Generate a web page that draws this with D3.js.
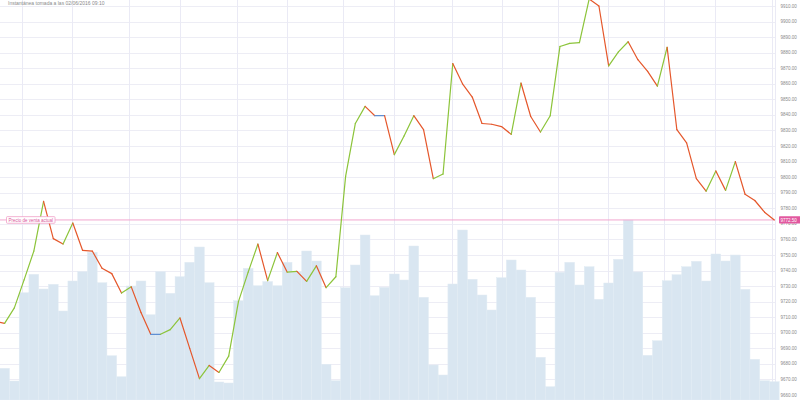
<!DOCTYPE html>
<html>
<head>
<meta charset="utf-8">
<script src="https://cdn.jsdelivr.net/npm/d3@7"></script>
<style>
  html, body { margin: 0; padding: 0; background: #fff; }
  svg { display: block; }
  text { font-family: "Liberation Sans", Arial, sans-serif; }
</style>
</head>
<body>
<svg id="chart" width="800" height="400"></svg>
<script>
// ---- data ----
const title = "Instantánea tomada a las 02/06/2016 09:10";
const priorPrice = 9707.5;
const prices = [
  9706, 9716, 9734, 9752.5, 9784.5, 9760.5, 9757, 9770.5, 9753, 9752.5,
  9741.5, 9738, 9725.5, 9729.5, 9713, 9699, 9699, 9702, 9709.5, 9690,
  9670.5, 9679, 9674.5, 9685, 9720, 9739, 9757, 9733.5, 9751.5, 9739,
  9739.5, 9733, 9743, 9729, 9736, 9800.5, 9834.5, 9845.5, 9839.5, 9839.5,
  9814.5, 9826.5, 9839.5, 9830.5, 9799, 9802, 9873, 9860, 9851.5, 9834.5,
  9834, 9832.5, 9827.5, 9860.5, 9839, 9829, 9839.5, 9884, 9886, 9886.5,
  9914.5, 9910, 9871.5, 9880.5, 9887, 9875.5, 9868, 9858.5, 9883.5, 9830.5,
  9822, 9799, 9791, 9804, 9791.5, 9810, 9789, 9785, 9777.5, 9772.5
];
const volumes = [
  317, 190, 1073, 1257, 1110, 1157, 890, 1190, 1283, 1477,
  1173, 443, 233, 1140, 1190, 853, 1283, 1067, 1233, 1377,
  1530, 1173, 180, 170, 993, 1317, 1143, 1185, 1143, 1377,
  1283, 1490, 1390, 357, 193, 1123, 1350, 1650, 1043, 1127,
  1260, 1200, 1540, 1027, 350, 250, 1160, 1700, 1207, 1050,
  900, 1223, 1400, 1300, 1027, 427, 133, 1277, 1377, 1150,
  1333, 1007, 1170, 1407, 1800, 1280, 447, 593, 1193, 1253,
  1333, 1387, 1190, 1460, 1390, 1450, 1107, 407, 193, 183
];
const currentPrice = 9772.5;
const currentLabel = "Precio de venta actual";
const priceTicks = d3.range(9660, 9911, 10);
const timeGridIdx = [1.75, 6.95, 12.8, 18.0, 23.82, 28.95, 34.76, 39.97, 45.89, 51.02, 56.77, 61.96, 67.7, 72.9, 78.72];

// ---- scales ----
const svg = d3.select("#chart");
const plotRight = 775;
const x = d3.scaleLinear().domain([0, 79]).range([4.6, 774.3]);
const step = x(1) - x(0);
const y = d3.scaleLinear().domain([9660, 9910]).range([395, 6]);
const yv = d3.scaleLinear().domain([0, 2000]).range([400, 200]);

// ---- grid ----
const grid = svg.append("g");
grid.selectAll("line.h").data(priceTicks).join("line")
  .attr("x1", 0).attr("x2", plotRight)
  .attr("y1", d => Math.round(y(d)) + 0.5).attr("y2", d => Math.round(y(d)) + 0.5)
  .attr("stroke", "#ededf5").attr("stroke-width", 1);
grid.selectAll("line.v").data(timeGridIdx).join("line")
  .attr("x1", d => Math.round(x(d)) + 0.5).attr("x2", d => Math.round(x(d)) + 0.5)
  .attr("y1", 0).attr("y2", 400)
  .attr("stroke", "#eaeaf5").attr("stroke-width", 1);
svg.append("line")
  .attr("x1", plotRight + 0.5).attr("x2", plotRight + 0.5)
  .attr("y1", 0).attr("y2", 400)
  .attr("stroke", "#eaeaf5");

// ---- volume bars ----
svg.append("g").selectAll("rect").data(volumes).join("rect")
  .attr("x", (d, i) => x(i) - step / 2)
  .attr("width", step)
  .attr("y", d => yv(d))
  .attr("height", d => yv(0) - yv(d))
  .attr("fill", "#d9e6f1")
  .attr("stroke", "#e1ebf4")
  .attr("stroke-width", 0.5);

// ---- title ----
svg.append("text").attr("x", 8).attr("y", 4.6)
  .attr("font-size", 5).attr("fill", "#8a8a8a").text(title);

// ---- current price line ----
svg.append("line")
  .attr("x1", 0).attr("x2", plotRight)
  .attr("y1", y(currentPrice)).attr("y2", y(currentPrice))
  .attr("stroke", "#f2a6cf").attr("stroke-width", 1);

// ---- price line segments ----
const pts = [{i: -1, v: priorPrice}].concat(prices.map((v, i) => ({i, v})));
const segs = d3.pairs(pts);
svg.append("g").selectAll("line").data(segs).join("line")
  .attr("x1", d => x(d[0].i)).attr("y1", d => y(d[0].v))
  .attr("x2", d => x(d[1].i)).attr("y2", d => y(d[1].v))
  .attr("stroke", d => d[1].v > d[0].v ? "#8cc43a" : (d[1].v < d[0].v ? "#e5572b" : "#5f8fd3"))
  .attr("stroke-width", 1.2)
  .attr("stroke-linecap", "round");

// ---- right axis labels ----
const fmt = d3.format(".2f");
svg.append("g").selectAll("text").data(priceTicks).join("text")
  .attr("x", 780.5).attr("y", d => Math.max(y(d), 3))
  .attr("dy", "0.35em")
  .attr("font-size", 4.5).attr("fill", "#8a8a8a")
  .text(d => fmt(d));

// ---- current price tag on axis ----
const cy = y(currentPrice);
svg.append("rect").attr("x", 779).attr("y", cy - 3.6).attr("width", 24).attr("height", 7.2)
  .attr("fill", "#e2589f").attr("rx", 0.8);
svg.append("text").attr("x", 780.5).attr("y", cy).attr("dy", "0.35em")
  .attr("font-size", 4.5).attr("fill", "#fff").text(fmt(currentPrice));

// ---- left label ----
svg.append("rect").attr("x", 6.5).attr("y", cy - 3.3).attr("width", 48.5).attr("height", 6.6)
  .attr("fill", "#fff").attr("stroke", "#f0a0c8").attr("stroke-width", 0.8).attr("rx", 0.8);
svg.append("text").attr("x", 8.5).attr("y", cy).attr("dy", "0.35em")
  .attr("font-size", 4.5).attr("fill", "#d9559a").text(currentLabel);
</script>
</body>
</html>
